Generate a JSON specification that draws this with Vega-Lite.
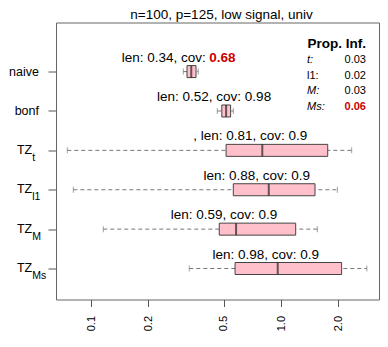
{
  "$schema": "https://vega.github.io/schema/vega-lite/v6.json",
  "width": 323,
  "height": 277,
  "autosize": {"type": "none"},
  "padding": {"left": 56, "top": 22.5, "right": 9, "bottom": 47.5},
  "background": "white",
  "config": {
    "font": "Liberation Sans",
    "view": {"stroke": "#666", "strokeWidth": 1},
    "axis": {"grid": false, "domain": false}
  },
  "title": {
    "text": "n=100, p=125, low signal, univ",
    "fontSize": 13.5,
    "fontWeight": "normal",
    "font": "Liberation Sans",
    "color": "black",
    "anchor": "middle",
    "frame": "group",
    "baseline": "alphabetic",
    "offset": 5,
    "dy": 15,
    "dx": 4
  },
  "datasets": {
    "boxes": [
      {"method": "naive", "pos": 1, "lo": 0.306, "q1": 0.320, "med": 0.337, "q3": 0.357, "hi": 0.367, "note": "len: 0.34, cov:", "red": "0.68", "sub": ""},
      {"method": "bonf", "pos": 2, "lo": 0.462, "q1": 0.488, "med": 0.514, "q3": 0.543, "hi": 0.561, "note": "len: 0.52, cov: 0.98", "red": "", "sub": ""},
      {"method": "TZ_t", "pos": 3, "lo": 0.075, "q1": 0.514, "med": 0.797, "q3": 1.762, "hi": 2.355, "note": ", len: 0.81, cov: 0.9", "red": "", "sub": "t"},
      {"method": "TZ_l1", "pos": 4, "lo": 0.0807, "q1": 0.561, "med": 0.862, "q3": 1.51, "hi": 1.98, "note": "len: 0.88, cov: 0.9", "red": "", "sub": "l1"},
      {"method": "TZ_M", "pos": 5, "lo": 0.116, "q1": 0.473, "med": 0.580, "q3": 1.195, "hi": 1.553, "note": "len: 0.59, cov: 0.9", "red": "", "sub": "M"},
      {"method": "TZ_Ms", "pos": 6, "lo": 0.329, "q1": 0.573, "med": 0.961, "q3": 2.085, "hi": 2.83, "note": "len: 0.98, cov: 0.9", "red": "", "sub": "Ms"}
    ],
    "prop": [
      {"name": "t:", "val": "0.03", "i": 1, "red": false},
      {"name": "l1:", "val": "0.02", "i": 2, "red": false},
      {"name": "M:", "val": "0.03", "i": 3, "red": false},
      {"name": "Ms:", "val": "0.06", "i": 4, "red": true}
    ]
  },
  "layer": [
    {
      "data": {"name": "boxes"},
      "layer": [
        {
          "mark": {"type": "rule", "color": "#777", "strokeDash": [4, 3], "strokeWidth": 1},
          "encoding": {
            "x": {
              "field": "lo", "type": "quantitative",
              "scale": {"type": "log", "domain": [0.0654, 3.28], "nice": false},
              "axis": {
                "values": [0.1, 0.2, 0.5, 1, 2],
                "labelExpr": "format(datum.value, '.1f')",
                "labelAngle": -90,
                "labelFontSize": 11,
                "labelColor": "black",
                "tickSize": 7,
                "tickColor": "#555",
                "labelPadding": 9,
                "title": null
              }
            },
            "x2": {"field": "hi"},
            "y": {
              "field": "pos", "type": "quantitative",
              "scale": {"domain": [-0.12, 6.66], "reverse": true, "nice": false, "zero": false},
              "axis": {
                "values": [1, 2, 3, 4, 5, 6],
                "labelExpr": "datum.value == 1 ? 'naive' : datum.value == 2 ? 'bonf' : ''",
                "labelFontSize": 12.5,
                "labelColor": "black",
                "tickSize": 8,
                "tickColor": "#555",
                "labelPadding": 9.5,
                "title": null
              }
            }
          }
        },
        {
          "mark": {"type": "tick", "orient": "vertical", "size": 6, "thickness": 1, "color": "#777"},
          "encoding": {
            "x": {"field": "lo", "type": "quantitative"},
            "y": {"field": "pos", "type": "quantitative"}
          }
        },
        {
          "mark": {"type": "tick", "orient": "vertical", "size": 6, "thickness": 1, "color": "#777"},
          "encoding": {
            "x": {"field": "hi", "type": "quantitative"},
            "y": {"field": "pos", "type": "quantitative"}
          }
        },
        {
          "mark": {"type": "bar", "orient": "horizontal", "size": 12, "fill": "#FFC0CB", "stroke": "#444", "strokeWidth": 1},
          "encoding": {
            "x": {"field": "q1", "type": "quantitative"},
            "x2": {"field": "q3"},
            "y": {"field": "pos", "type": "quantitative"}
          }
        },
        {
          "mark": {"type": "tick", "orient": "vertical", "size": 12, "thickness": 2, "color": "#222"},
          "encoding": {
            "x": {"field": "med", "type": "quantitative"},
            "y": {"field": "pos", "type": "quantitative"}
          }
        },
        {
          "transform": [{"filter": "datum.red == ''"}],
          "mark": {"type": "text", "align": "center", "baseline": "alphabetic", "dx": -12, "dy": -10, "fontSize": 13.5, "color": "black", "clip": false},
          "encoding": {
            "x": {"field": "med", "type": "quantitative"},
            "y": {"field": "pos", "type": "quantitative"},
            "text": {"field": "note"}
          }
        },
        {
          "transform": [{"filter": "datum.red != ''"}],
          "mark": {"type": "text", "align": "right", "baseline": "alphabetic", "dx": 14.5, "dy": -10, "fontSize": 13.5, "color": "black", "clip": false},
          "encoding": {
            "x": {"field": "med", "type": "quantitative"},
            "y": {"field": "pos", "type": "quantitative"},
            "text": {"field": "note"}
          }
        },
        {
          "transform": [{"filter": "datum.red != ''"}],
          "mark": {"type": "text", "align": "left", "baseline": "alphabetic", "dx": 18, "dy": -10, "fontSize": 13.5, "fontWeight": "bold", "color": "#CC0000", "clip": false},
          "encoding": {
            "x": {"field": "med", "type": "quantitative"},
            "y": {"field": "pos", "type": "quantitative"},
            "text": {"field": "red"}
          }
        },
        {
          "transform": [{"filter": "datum.sub != ''"}],
          "mark": {"type": "text", "text": "TZ", "align": "right", "baseline": "alphabetic", "dy": 3.5, "fontSize": 12.5, "color": "black", "clip": false},
          "encoding": {
            "x": {"datum": 0.049, "type": "quantitative"},
            "y": {"field": "pos", "type": "quantitative"}
          }
        },
        {
          "transform": [{"filter": "datum.sub != ''"}],
          "mark": {"type": "text", "align": "left", "baseline": "alphabetic", "dy": 10.5, "fontSize": 10.5, "color": "black", "clip": false},
          "encoding": {
            "x": {"datum": 0.049, "type": "quantitative"},
            "y": {"field": "pos", "type": "quantitative"},
            "text": {"field": "sub"}
          }
        }
      ]
    },
    {
      "layer": [
        {
          "data": {"values": [{"t": "Prop. Inf.", "i": 0}]},
          "mark": {"type": "text", "align": "right", "baseline": "alphabetic", "fontSize": 13.5, "fontWeight": "bold", "color": "black", "clip": false},
          "encoding": {
            "x": {"datum": 2.8, "type": "quantitative"},
            "y": {"field": "i", "type": "quantitative", "scale": {"domain": [-1.656, 16.33], "reverse": true, "nice": false, "zero": false}, "axis": null},
            "text": {"field": "t"}
          }
        },
        {
          "data": {"name": "prop"},
          "transform": [{"filter": "datum.name != 'l1:'"}],
          "mark": {"type": "text", "align": "left", "baseline": "alphabetic", "fontSize": 11, "fontStyle": "italic", "color": "black", "clip": false},
          "encoding": {
            "x": {"datum": 1.37, "type": "quantitative"},
            "y": {"field": "i", "type": "quantitative"},
            "text": {"field": "name"}
          }
        },
        {
          "data": {"name": "prop"},
          "transform": [{"filter": "datum.name == 'l1:'"}],
          "mark": {"type": "text", "align": "left", "baseline": "alphabetic", "fontSize": 11, "color": "black", "clip": false},
          "encoding": {
            "x": {"datum": 1.37, "type": "quantitative"},
            "y": {"field": "i", "type": "quantitative"},
            "text": {"field": "name"}
          }
        },
        {
          "data": {"name": "prop"},
          "transform": [{"filter": "!datum.red"}],
          "mark": {"type": "text", "align": "right", "baseline": "alphabetic", "fontSize": 11, "color": "black", "clip": false},
          "encoding": {
            "x": {"datum": 2.8, "type": "quantitative"},
            "y": {"field": "i", "type": "quantitative"},
            "text": {"field": "val"}
          }
        },
        {
          "data": {"name": "prop"},
          "transform": [{"filter": "datum.red"}],
          "mark": {"type": "text", "align": "right", "baseline": "alphabetic", "fontSize": 11, "fontWeight": "bold", "color": "#CC0000", "clip": false},
          "encoding": {
            "x": {"datum": 2.8, "type": "quantitative"},
            "y": {"field": "i", "type": "quantitative"},
            "text": {"field": "val"}
          }
        }
      ]
    }
  ],
  "resolve": {"scale": {"y": "independent"}, "axis": {"y": "independent"}}
}
